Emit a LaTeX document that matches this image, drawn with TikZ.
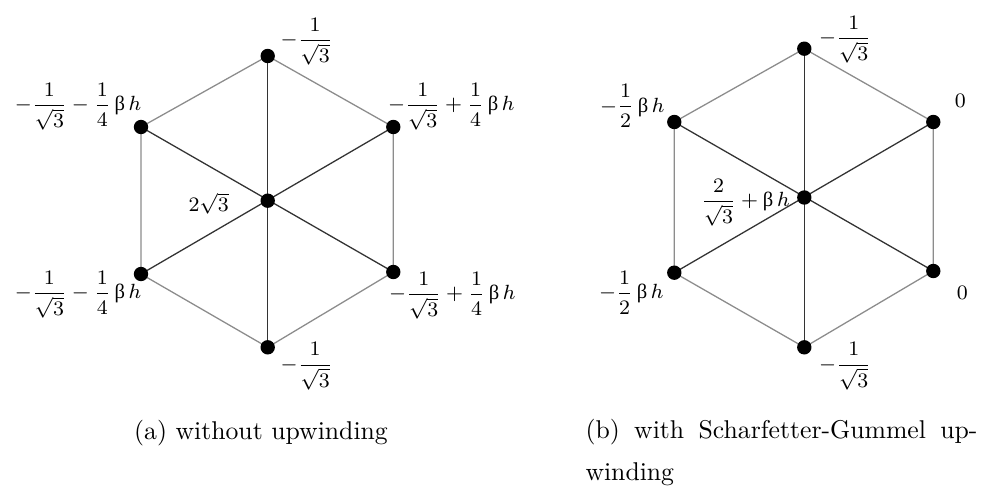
\documentclass[tikz,border=0pt]{standalone}
\usepackage{amsmath,amssymb}
\usepackage{fontspec}
\usepackage{tikz}
\usetikzlibrary{calc}
\newfontfamily\grkfont{Liberation Serif}
\newcommand{\ubeta}{\mbox{\grkfont β}}
\tikzset{
  rim/.style={draw=black!45, line width=0.5pt},
  spoke/.style={draw=black!80, line width=0.5pt},
  lab/.style={inner sep=0pt, font=\footnotesize},
  captext/.style={inner sep=0pt, font=\normalsize}
}

\begin{document}
\begin{tikzpicture}[x=0.389pt,y=-0.389pt]
  \useasboundingbox (0,0) rectangle (987,491);
  % left hexagon
  \coordinate (a0) at (267.7,200.7);
  \coordinate (a1) at (267.7,56);
  \coordinate (a2) at (141,127);
  \coordinate (a3) at (141,274);
  \coordinate (a4) at (267.7,347.3);
  \coordinate (a5) at (393.3,272);
  \coordinate (a6) at (393.3,127);
  % right hexagon
  \coordinate (b0) at (804.3,197.5);
  \coordinate (b1) at (804.3,48.7);
  \coordinate (b2) at (674.3,122);
  \coordinate (b3) at (674.3,272.7);
  \coordinate (b4) at (804.3,347.3);
  \coordinate (b5) at (933.3,271);
  \coordinate (b6) at (933.3,122);
  \draw[rim] (a1)--(a2)--(a3)--(a4)--(a5)--(a6)--cycle;
  \draw[rim] (b1)--(b2)--(b3)--(b4)--(b5)--(b6)--cycle;
  \draw[spoke] (a1)--(a4); \draw[spoke] (a2)--(a5); \draw[spoke] (a3)--(a6);
  \draw[spoke] (b1)--(b4); \draw[spoke] (b2)--(b5); \draw[spoke] (b3)--(b6);
  \foreach \p in {a0,a1,a2,a3,a4,a5,a6,b0,b1,b2,b3,b4,b5,b6}{\fill (\p) circle (2.8pt);}
  % values without upwinding
  \node[lab] (la1) at ($(a1)+(39,-14)$) {$-\dfrac{1}{\sqrt{3}}$};
  \node[lab] (la2) at ($(a2)+(-63,-20)$) {$-\dfrac{1}{\sqrt{3}}-\dfrac{1}{4}\,\ubeta\,h$};
  \node[lab] (la3) at ($(a3)+(-63,21)$) {$-\dfrac{1}{\sqrt{3}}-\dfrac{1}{4}\,\ubeta\,h$};
  \node[lab] (la4) at ($(a4)+(39,19)$) {$-\dfrac{1}{\sqrt{3}}$};
  \node[lab] (la5) at ($(a5)+(59,24)$) {$-\dfrac{1}{\sqrt{3}}+\dfrac{1}{4}\,\ubeta\,h$};
  \node[lab] (la6) at ($(a6)+(58,-20)$) {$-\dfrac{1}{\sqrt{3}}+\dfrac{1}{4}\,\ubeta\,h$};
  \node[lab] (la0) at ($(a0)+(-59,3)$) {$2\sqrt{3}$};
  % values with Scharfetter-Gummel
  \node[lab] (lb1) at ($(b1)+(41,-9)$) {$-\dfrac{1}{\sqrt{3}}$};
  \node[lab] (lb2) at ($(b2)+(-42,-16)$) {$-\dfrac{1}{2}\,\ubeta\,h$};
  \node[lab] (lb3) at ($(b3)+(-43,20)$) {$-\dfrac{1}{2}\,\ubeta\,h$};
  \node[lab] (lb4) at ($(b4)+(41,19)$) {$-\dfrac{1}{\sqrt{3}}$};
  \node[lab] (lb5) at ($(b5)+(29,22)$) {$0$};
  \node[lab] (lb6) at ($(b6)+(27,-21)$) {$0$};
  \node[lab] (lb0) at ($(b0)+(-59,5.5)$) {$\dfrac{2}{\sqrt{3}}+\ubeta\,h$};
  % captions
  \node[captext, anchor=base] (capa) at (261,439) {(a) without upwinding};
  \node[captext, anchor=base west, align=left] (capb) at (585,480)
    {\makebox[152.5pt][s]{(b) with Scharfetter-Gummel up-}\\[4.3pt]winding};
\end{tikzpicture}
\end{document}
